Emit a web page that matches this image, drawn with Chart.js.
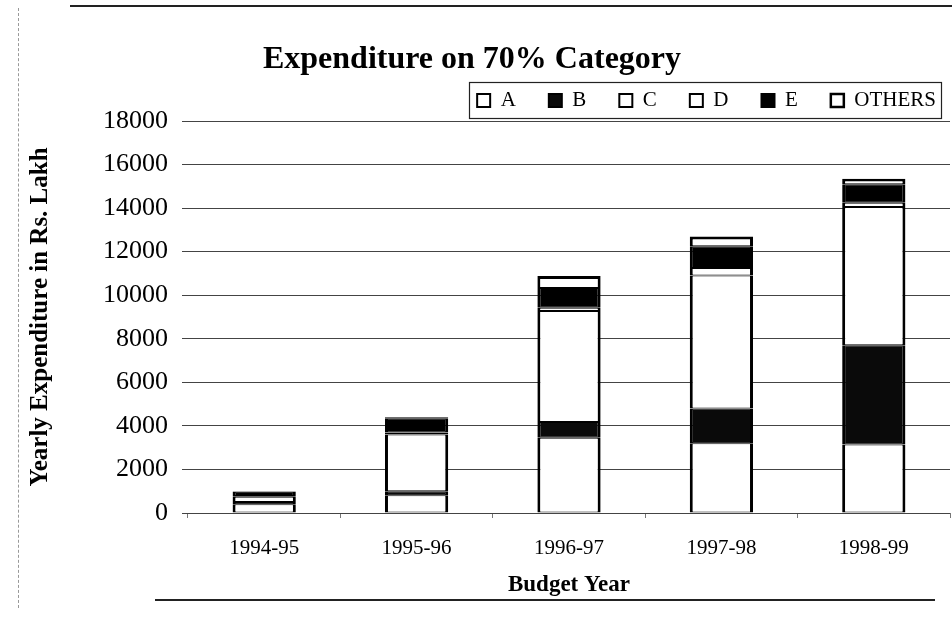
<!DOCTYPE html>
<html>
<head>
<meta charset="utf-8">
<script src="https://cdn.jsdelivr.net/npm/chart.js@4/dist/chart.umd.min.js"></script>
<style>
  html, body { margin: 0; padding: 0; background: #fff; }
  #wrap { position: relative; width: 952px; height: 632px; }
  canvas { position: absolute; left: 0; top: 0; }
  .fr { position: absolute; }
</style>
</head>
<body>
<div id="wrap">
  <canvas id="c" width="952" height="632"></canvas>
  <div class="fr" style="left:70px;top:5px;width:882px;height:0;border-top:2px solid #222;"></div>
  <div class="fr" style="left:18px;top:8px;width:0;height:600px;border-left:1px dashed #999;"></div>
  <div class="fr" style="left:155px;top:599px;width:780px;height:0;border-top:2px solid #222;"></div>
</div>
<script>
const categories = ['1994-95', '1995-96', '1996-97', '1997-98', '1998-99'];
const seriesA      = [400,  820, 3450, 3200, 3150];
const seriesB      = [100,  180,  730, 1600, 4550];
const seriesC      = [250, 2600, 5100, 6100, 6350];
const seriesD      = [30,   100,  150,  350,  200];
const seriesE      = [200,  650,  900, 1000,  850];
const seriesOthers = [20,    50,  550,  450,  250];
const yTicks = [0, 2000, 4000, 6000, 8000, 10000, 12000, 14000, 16000, 18000];
const chartTitle = 'Expenditure on 70% Category';

const SERIF = "'Liberation Serif', 'Times New Roman', serif";
const sideBorder = {left: 3, right: 3, top: 1, bottom: 1};

function ds(label, data, fill, top) {
  return {
    label: label,
    data: data,
    backgroundColor: fill,
    borderColor: '#000',
    borderWidth: top ? {left: 3, right: 3, top: 3, bottom: 1} : sideBorder,
    borderSkipped: false,
    barPercentage: 0.415,
    categoryPercentage: 1.0
  };
}

const decor = {
  id: 'decor',
  afterLayout(chart) {
    const lg = chart.legend;
    if (lg) { lg.left += 19; lg.right += 19; }
  },
  afterDraw(chart) {
    const ctx = chart.ctx;
    ctx.save();
    ctx.fillStyle = '#000';
    ctx.font = 'bold 32px ' + SERIF;
    ctx.textAlign = 'center';
    ctx.textBaseline = 'middle';
    ctx.fillText(chartTitle, 472, 60);
    const lg = chart.legend;
    if (lg && lg.legendHitBoxes && lg.legendHitBoxes.length) {
      const hb = lg.legendHitBoxes;
      let l = Infinity, r = -Infinity, t = Infinity, b = -Infinity;
      hb.forEach(h => { l = Math.min(l, h.left); r = Math.max(r, h.left + h.width); t = Math.min(t, h.top); b = Math.max(b, h.top + h.height); });
      ctx.strokeStyle = '#222';
      ctx.lineWidth = 1.2;
      ctx.strokeRect(Math.round(l - 8) + 0.5, Math.round(t - 8) + 0.5, Math.round(r - l + 13), Math.round(b - t + 15));
    }
    ctx.restore();
  }
};

new Chart(document.getElementById('c'), {
  type: 'bar',
  data: {
    labels: categories,
    datasets: [
      ds('A', seriesA, '#ffffff'),
      ds('B', seriesB, '#0a0a0a'),
      ds('C', seriesC, '#ffffff'),
      ds('D', seriesD, '#ffffff'),
      ds('E', seriesE, '#000000'),
      ds('OTHERS', seriesOthers, '#ffffff', true)
    ]
  },
  options: {
    responsive: false,
    animation: false,
    layout: { padding: { left: 26, right: 2, top: 57, bottom: 35 } },
    plugins: {
      tooltip: { enabled: false },
      title: { display: false },
      legend: {
        display: true,
        position: 'top',
        align: 'end',
        labels: {
          color: '#000',
          font: { family: SERIF, size: 21 },
          boxWidth: 13,
          boxHeight: 13,
          padding: 33
        }
      }
    },
    scales: {
      x: {
        stacked: true,
        grid: { display: true, drawOnChartArea: false, drawTicks: true, tickLength: 5, color: '#777', offset: true },
        border: { display: false },
        ticks: { color: '#000', font: { family: SERIF, size: 21, lineHeight: 1.0 }, padding: 20, maxRotation: 0 },
        title: {
          display: true,
          text: 'Budget Year',
          color: '#000',
          font: { family: SERIF, size: 23, weight: 'bold', lineHeight: 1.0 },
          padding: { top: -5, bottom: 0 }
        }
      },
      y: {
        stacked: true,
        min: 0,
        max: 18000,
        afterBuildTicks(scale) { scale.ticks = yTicks.map(v => ({ value: v })); },
        grid: { color: '#444', lineWidth: 1, drawTicks: true, tickLength: 6 },
        border: { display: false },
        ticks: { color: '#000', font: { family: SERIF, size: 26 }, padding: 14, callback: v => String(v) },
        title: {
          display: true,
          text: 'Yearly Expenditure in Rs. Lakh',
          color: '#000',
          font: { family: SERIF, size: 25, weight: 'bold' },
          padding: { top: 0, bottom: 33 }
        }
      }
    }
  },
  plugins: [decor]
});
</script>
</body>
</html>
